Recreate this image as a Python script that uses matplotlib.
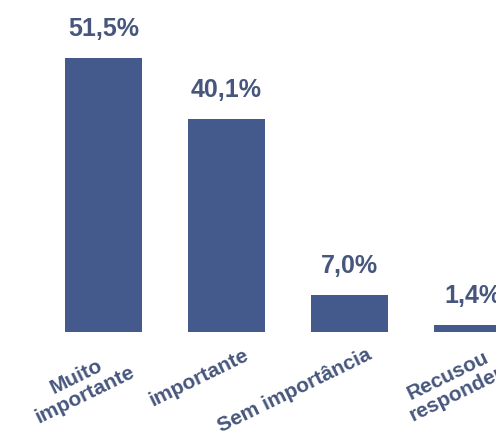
import matplotlib
matplotlib.use("Agg")
import matplotlib.pyplot as plt
from matplotlib.transforms import ScaledTranslation

categories = ["Muito\nimportante", "importante", "Sem importância", "Recusou\nresponder"]
values = [51.5, 40.1, 7.0, 1.4]
value_labels = ["51,5%", "40,1%", "7,0%", "1,4%"]

bar_color = "#445a8c"
text_color = "#46567c"

W, H, DPI = 496, 442, 100
fig = plt.figure(figsize=(W / DPI, H / DPI), dpi=DPI)
fig.patch.set_facecolor("white")

base_px = 332  # baseline from top in pixels
ax = fig.add_axes([0, (H - base_px) / H, 1, base_px / H])
ax.set_facecolor("none")

step = 123.0
first_center = 103.5
ax.set_xlim(-first_center / step, (W - first_center) / step)
ax.set_ylim(0, base_px / 5.32)

x = list(range(len(categories)))
ax.bar(x, values, width=0.63, color=bar_color, zorder=2)

for xi, v, lab in zip(x, values, value_labels):
    ax.annotate(lab, (xi, v), xytext=(0, 22 * 72 / DPI), textcoords="offset points",
                ha="center", va="baseline", fontsize=18, fontweight="bold",
                color=text_color, family="Liberation Sans", annotation_clip=False)

off = ScaledTranslation(17 / DPI, -13 / DPI, fig.dpi_scale_trans)
for xi, cat in zip(x, categories):
    ax.text(xi, 0, cat, transform=ax.get_xaxis_transform() + off,
            rotation=26, rotation_mode="anchor", ha="right", va="top",
            multialignment="center", fontsize=15, fontweight="bold",
            color=text_color, family="Liberation Sans", linespacing=1.05,
            clip_on=False)

ax.axis("off")
fig.savefig("out.png", dpi=DPI, facecolor="white")
